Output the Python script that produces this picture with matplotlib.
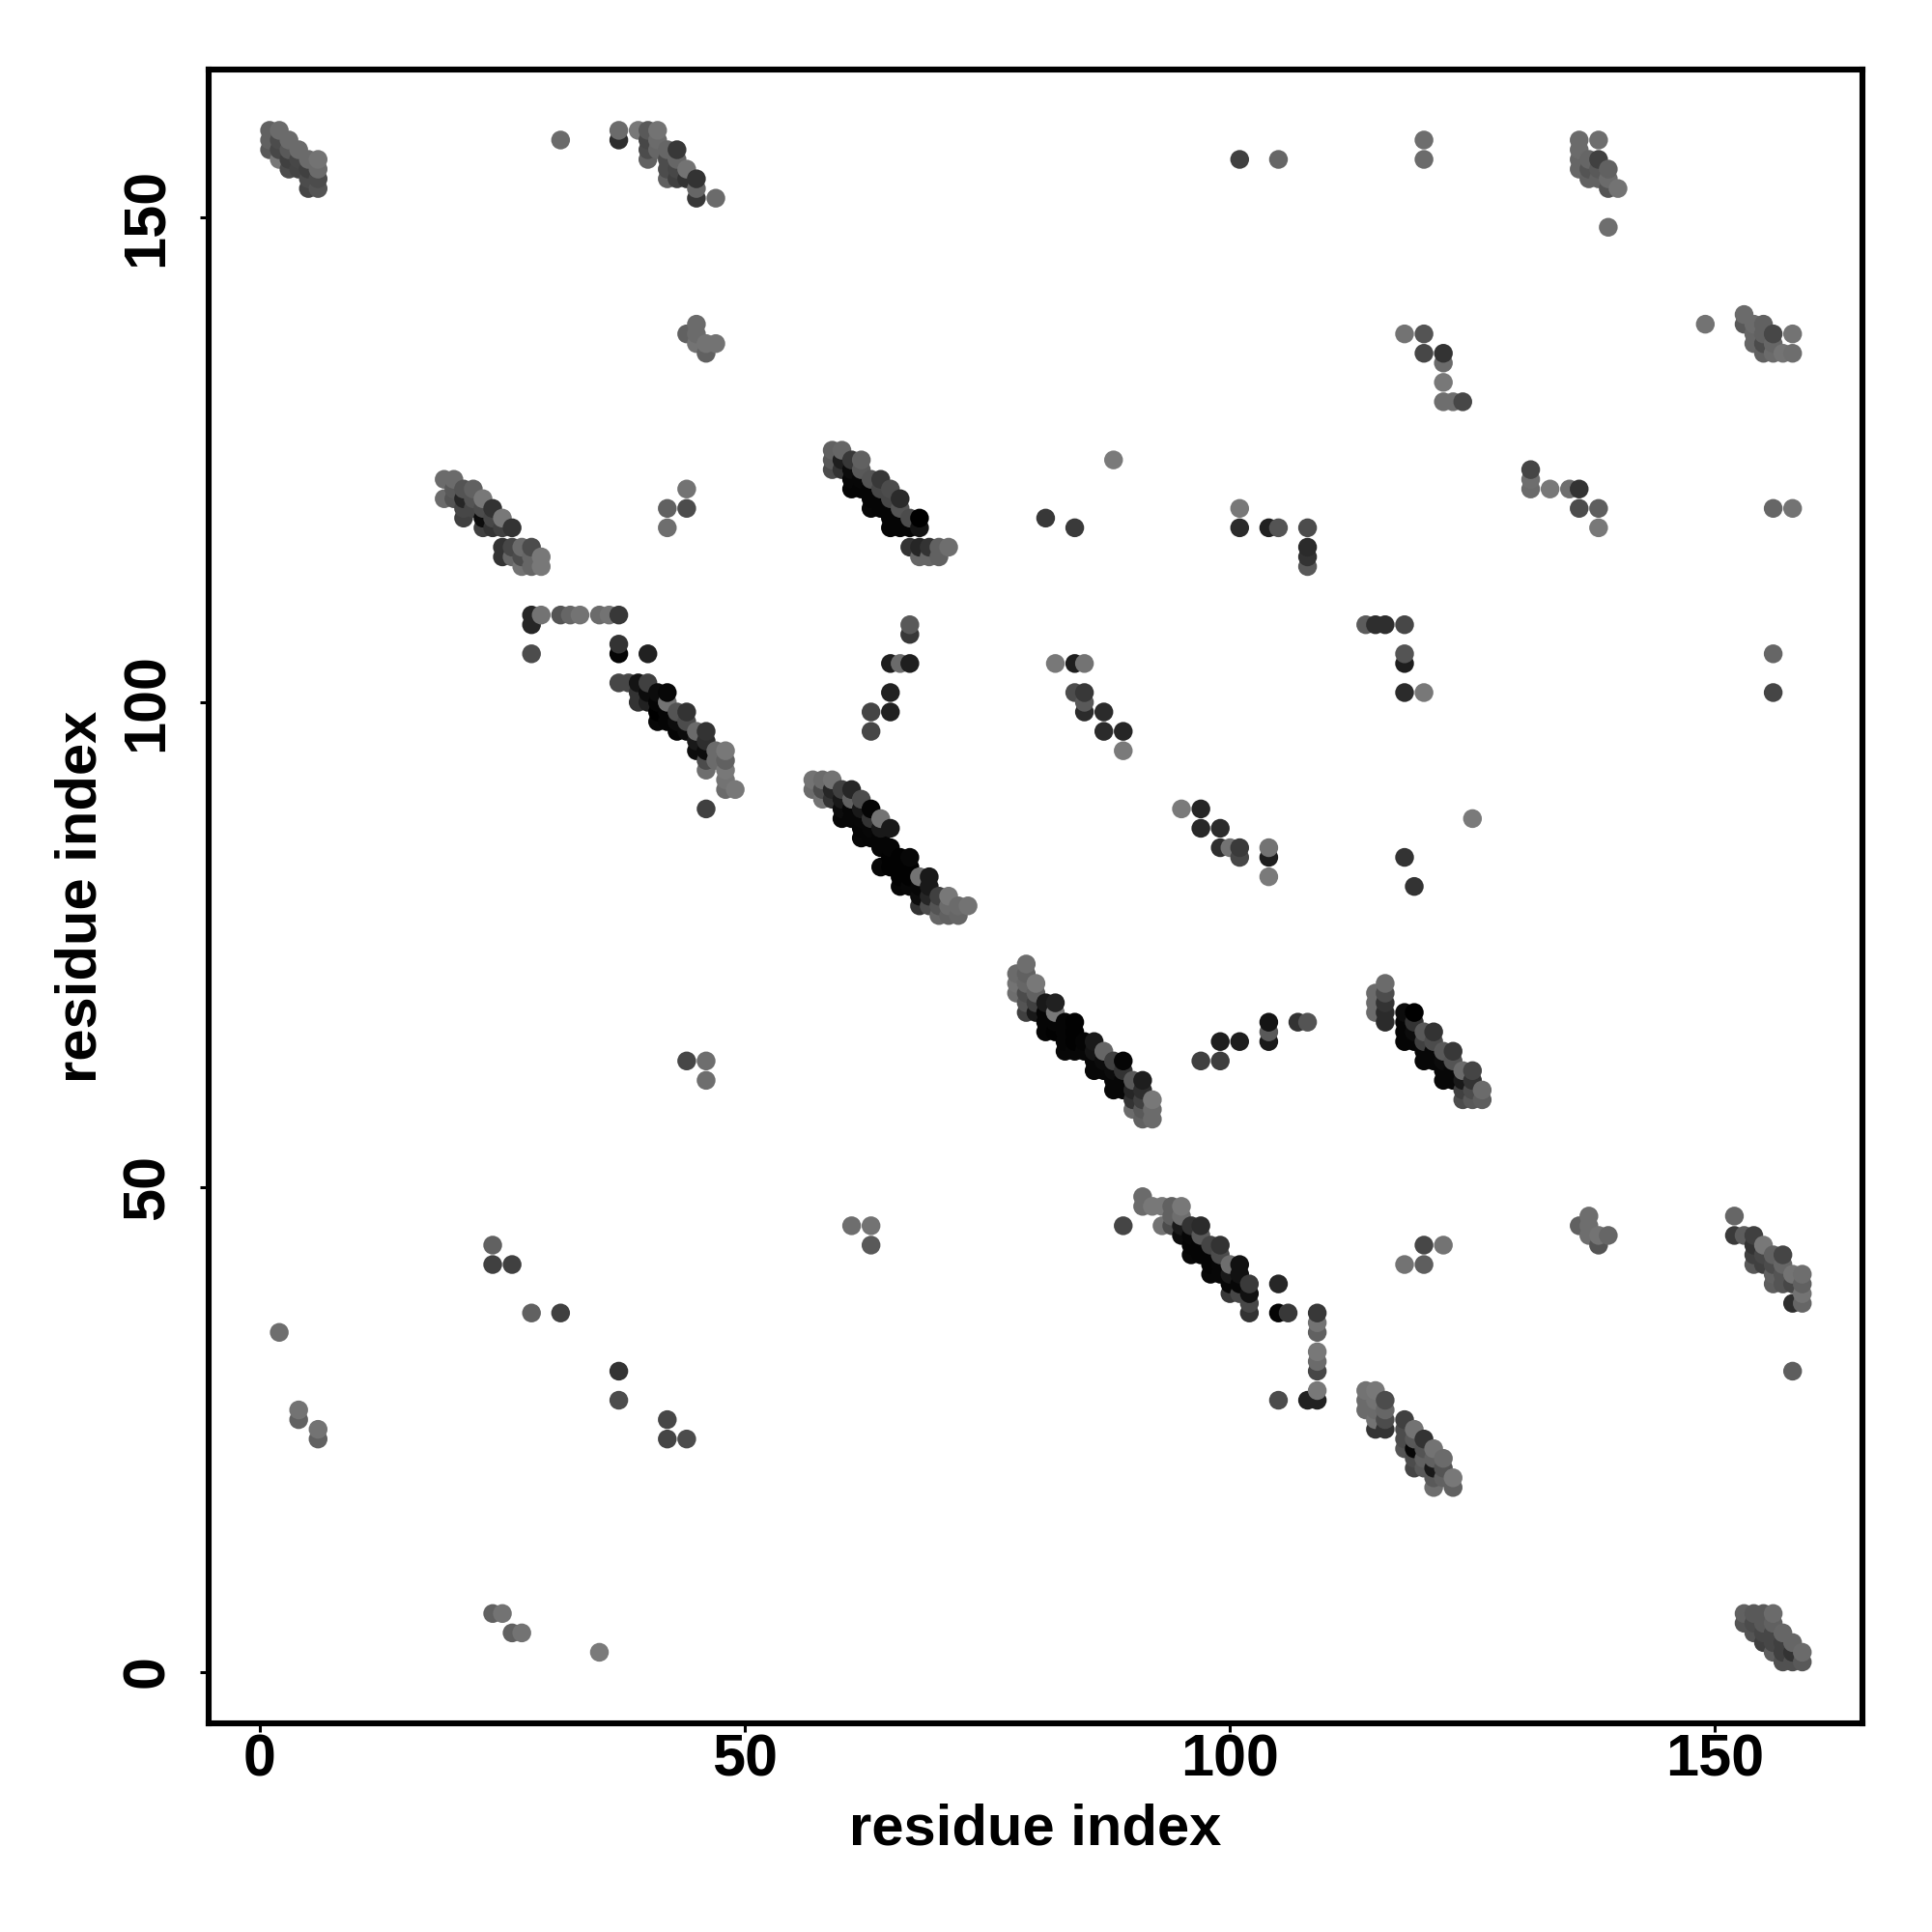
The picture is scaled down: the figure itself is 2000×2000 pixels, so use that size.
import numpy as np
import matplotlib
matplotlib.use("Agg")
import matplotlib.pyplot as plt

plt.rcParams["font.family"] = ["Liberation Sans", "DejaVu Sans"]
plt.rcParams["font.weight"] = "bold"

# contacts as (residue x, residue y, grey level)
block_1_6 = [
    (1, 159, .38), (1, 158, .38), (1, 157, .35), (2, 159, .42), (2, 158, .30), (2, 157, .28), (2, 156, .47),
    (3, 158, .42), (3, 157, .35), (3, 156, .25), (3, 155, .30), (4, 157, .42), (4, 156, .28), (4, 155, .27),
    (5, 156, .42), (5, 155, .25), (5, 154, .30), (5, 153, .27), (6, 156, .45), (6, 155, .42), (6, 154, .30), (6, 153, .33),
]
block_31_47 = [
    (31, 158, .42), (37, 159, .42), (37, 158, .18), (39, 159, .47), (40, 159, .35), (40, 158, .28), (40, 157, .30), (40, 156, .38),
    (41, 159, .45), (41, 158, .42), (41, 157, .40), (42, 157, .40), (42, 156, .30), (42, 155, .30), (42, 154, .38),
    (43, 157, .22), (43, 156, .40), (43, 155, .28), (43, 154, .25), (44, 155, .45), (44, 154, .20),
    (45, 154, .20), (45, 153, .40), (45, 152, .22), (47, 152, .42),
    (44, 138, .38), (45, 139, .42), (45, 138, .42), (45, 137, .45), (46, 137, .45), (46, 136, .38), (47, 137, .45),
]
block_19_29 = [
    (19, 123, .42), (19, 121, .42), (20, 123, .42), (20, 122, .35), (20, 121, .33), (21, 122, .33), (21, 121, .15), (21, 120, .28), (21, 119, .25),
    (22, 122, .38), (22, 121, .33), (22, 120, .28), (23, 121, .47), (23, 120, .30), (23, 119, .05), (23, 118, .25),
    (24, 120, .20), (24, 119, .28), (24, 118, .20), (25, 119, .47), (25, 118, .25), (26, 118, .20),
    (25, 116, .20), (25, 115, .20), (26, 116, .28), (26, 115, .40), (27, 116, .42), (27, 115, .30), (27, 114, .45),
    (28, 116, .30), (28, 115, .40), (28, 114, .40), (29, 115, .47), (29, 114, .47),
    (44, 122, .45), (44, 120, .30), (42, 120, .38), (42, 118, .43),
]
block_28_49 = [
    (28, 109, .15), (28, 108, .15), (29, 109, .45), (31, 109, .33), (32, 109, .40), (33, 109, .45), (35, 109, .42), (36, 109, .45), (37, 109, .22),
    (28, 105, .30), (37, 106, .20), (37, 105, .02), (40, 105, .13),
    (37, 102, .28), (38, 102, .28), (39, 102, .08), (39, 101, .20), (39, 100, .20), (40, 102, .25), (40, 101, .05), (40, 100, .13),
    (41, 101, .05), (41, 100, .02), (41, 99, .00), (41, 98, .03), (42, 101, .03), (42, 100, .45), (42, 99, .02), (42, 98, .02),
    (43, 99, .33), (43, 98, .05), (43, 97, .02), (44, 99, .20), (44, 98, .30), (44, 97, .05),
    (45, 97, .42), (45, 96, .10), (45, 95, .05), (46, 97, .20), (46, 96, .18), (46, 95, .05), (46, 94, .30), (46, 93, .43), (46, 89, .25),
    (47, 95, .42), (47, 94, .42), (48, 95, .47), (48, 94, .38), (48, 93, .47), (48, 92, .45), (48, 91, .42), (49, 91, .47),
]
block_59_71 = [
    (59, 126, .38), (59, 125, .35), (59, 124, .30), (60, 126, .40), (60, 125, .12), (60, 124, .20),
    (61, 125, .22), (61, 124, .05), (61, 123, .03), (61, 122, .02), (62, 125, .38), (62, 124, .35), (62, 123, .03), (62, 122, .02),
    (63, 123, .33), (63, 122, .02), (63, 121, .02), (63, 120, .03), (64, 123, .22), (64, 122, .28), (64, 121, .02), (64, 120, .02),
    (65, 122, .30), (65, 121, .28), (65, 120, .02), (65, 119, .02), (65, 118, .02), (66, 121, .17), (66, 120, .33), (66, 119, .02), (66, 118, .02),
    (67, 119, .30), (67, 118, .02), (67, 116, .20), (68, 119, .00), (68, 118, .08), (68, 116, .15), (68, 115, .40),
    (69, 116, .20), (69, 115, .40), (70, 116, .38), (70, 115, .38), (71, 116, .43),
]
block_81_108 = [
    (88, 125, .48), (81, 119, .22), (84, 118, .23), (101, 120, .47), (101, 118, .17), (104, 118, .13), (105, 118, .33),
    (108, 118, .30), (108, 116, .17), (108, 115, .20), (108, 114, .35),
    (67, 108, .35), (67, 107, .22), (65, 104, .12), (66, 104, .42), (67, 104, .12), (65, 101, .13), (65, 99, .13), (63, 99, .27), (63, 97, .28),
    (82, 104, .47), (84, 104, .12), (85, 104, .45), (84, 101, .30), (85, 101, .22), (85, 100, .35), (85, 99, .17),
    (87, 99, .17), (87, 97, .17), (89, 97, .15), (89, 95, .48),
    (95, 89, .48), (97, 89, .15), (97, 87, .16), (99, 87, .17), (99, 85, .18), (100, 85, .45), (101, 85, .23), (101, 84, .28),
    (104, 85, .45), (104, 84, .12), (104, 82, .48),
]
block_57_73 = [
    (57, 92, .45), (57, 91, .42), (58, 92, .42), (58, 91, .30), (58, 90, .45), (59, 92, .45), (59, 91, .15), (59, 90, .20),
    (60, 91, .25), (60, 90, .10), (60, 89, .05), (60, 88, .03), (61, 91, .15), (61, 90, .38), (61, 89, .03), (61, 88, .03),
    (62, 90, .30), (62, 89, .10), (62, 88, .03), (62, 87, .02), (62, 86, .03), (63, 89, .02), (63, 88, .20), (63, 87, .03), (63, 86, .02),
    (64, 88, .45), (64, 87, .10), (64, 86, .02), (64, 85, .02), (64, 83, .03), (65, 87, .10), (65, 85, .02), (65, 84, .01), (65, 83, .01),
    (66, 84, .01), (66, 83, .01), (66, 82, .01), (66, 81, .02), (67, 84, .03), (67, 83, .01), (67, 82, .01), (67, 81, .03),
    (68, 82, .45), (68, 81, .03), (68, 80, .05), (68, 79, .20), (69, 82, .10), (69, 81, .10), (69, 80, .15), (69, 79, .30),
    (70, 80, .25), (70, 79, .33), (70, 78, .40), (71, 80, .47), (71, 79, .42), (71, 78, .38), (72, 79, .42), (72, 78, .40), (73, 79, .45),
]
block_78_92 = [
    (78, 72, .42), (78, 71, .45), (78, 70, .43), (79, 73, .43), (79, 72, .38), (79, 71, .40), (79, 70, .30), (79, 69, .33), (79, 68, .25),
    (80, 71, .47), (80, 70, .38), (80, 69, .25), (80, 68, .10), (81, 69, .10), (81, 68, .02), (81, 67, .02), (81, 66, .02),
    (82, 69, .13), (82, 68, .47), (82, 67, .02), (82, 66, .01), (83, 67, .02), (83, 66, .02), (83, 65, .02), (83, 64, .03),
    (84, 67, .01), (84, 66, .01), (84, 65, .01), (84, 64, .03), (85, 65, .02), (85, 64, .03), (86, 65, .10), (86, 64, .08), (86, 63, .03), (86, 62, .03),
    (87, 64, .40), (87, 63, .05), (87, 62, .03), (88, 63, .25), (88, 62, .05), (88, 61, .03), (88, 60, .03),
    (89, 63, .02), (89, 62, .20), (89, 61, .03), (89, 60, .03), (90, 61, .35), (90, 60, .15), (90, 59, .20), (90, 58, .42),
    (91, 61, .12), (91, 60, .18), (91, 59, .25), (91, 58, .35), (91, 57, .38), (92, 59, .47), (92, 58, .42), (92, 57, .42),
]
block_97_126 = [
    (97, 63, .25), (99, 63, .24), (99, 65, .12), (101, 65, .12), (104, 67, .08), (104, 66, .35), (104, 65, .10), (107, 67, .20), (108, 67, .33),
    (115, 70, .42), (115, 69, .42), (115, 68, .42), (116, 71, .42), (116, 70, .30), (116, 69, .20), (116, 68, .17), (116, 67, .17),
    (118, 68, .05), (118, 67, .02), (118, 66, .02), (118, 65, .02), (119, 68, .00), (119, 67, .20), (119, 66, .05), (119, 65, .02),
    (120, 66, .35), (120, 65, .25), (120, 64, .03), (120, 63, .03), (121, 66, .20), (121, 65, .30), (121, 64, .03), (121, 63, .03),
    (122, 64, .35), (122, 63, .05), (122, 62, .03), (122, 61, .03), (123, 64, .22), (123, 63, .33), (123, 62, .03), (123, 61, .03),
    (124, 62, .42), (124, 61, .10), (124, 60, .25), (124, 59, .30), (125, 62, .27), (125, 61, .20), (125, 60, .30), (125, 59, .35),
    (126, 60, .42), (126, 59, .37),
]
block_89_109 = [
    (89, 46, .27), (91, 49, .42), (91, 48, .42), (92, 48, .47), (93, 48, .47), (93, 46, .45), (94, 48, .38), (94, 47, .38), (94, 46, .30),
    (95, 48, .47), (95, 47, .43), (95, 46, .10), (95, 45, .05), (96, 46, .20), (96, 45, .03), (96, 44, .02), (96, 43, .03),
    (97, 46, .17), (97, 45, .35), (97, 44, .02), (97, 43, .02), (98, 44, .27), (98, 43, .02), (98, 42, .02), (98, 41, .03),
    (99, 44, .20), (99, 43, .30), (99, 42, .03), (99, 41, .03), (100, 42, .43), (100, 41, .10), (100, 40, .03), (100, 39, .22),
    (101, 42, .07), (101, 41, .07), (101, 40, .03), (101, 39, .28), (102, 40, .23), (102, 39, .07), (102, 38, .28), (102, 37, .20),
    (105, 40, .15), (105, 37, .02), (106, 37, .22), (109, 37, .22), (109, 36, .45), (109, 35, .38), (109, 33, .47), (109, 32, .42), (109, 31, .28),
    (109, 29, .47), (109, 28, .13), (108, 28, .13), (105, 28, .30), (120, 44, .28), (122, 44, .45), (118, 42, .45), (120, 42, .37),
]
block_114_123 = [
    (114, 29, .45), (114, 28, .42), (114, 27, .42), (115, 29, .47), (115, 28, .45), (115, 27, .42), (115, 26, .45), (115, 25, .20),
    (116, 28, .30), (116, 27, .40), (116, 26, .30), (116, 25, .20), (118, 26, .25), (118, 25, .30), (118, 24, .30), (118, 23, .33),
    (119, 25, .45), (119, 24, .35), (119, 23, .03), (119, 22, .30), (119, 21, .27), (120, 24, .20), (120, 23, .33), (120, 22, .38), (120, 21, .35),
    (121, 23, .45), (121, 22, .38), (121, 21, .10), (121, 20, .35), (121, 19, .43), (122, 22, .42), (122, 21, .33), (122, 20, .38),
    (123, 20, .47), (123, 19, .38),
]
block_136_159_low = [
    (136, 46, .38), (137, 47, .43), (137, 46, .43), (137, 45, .43), (138, 45, .45), (138, 44, .33), (139, 45, .40),
    (152, 47, .40), (152, 45, .23), (153, 45, .36), (154, 45, .25), (154, 44, .20), (154, 43, .25), (154, 42, .35),
    (155, 44, .47), (155, 43, .28), (155, 42, .25), (156, 43, .38), (156, 42, .30), (156, 41, .38), (156, 40, .37),
    (157, 43, .27), (157, 42, .40), (157, 41, .33), (157, 40, .33), (158, 41, .45), (158, 40, .28), (158, 38, .18), (158, 31, .37),
    (159, 41, .43), (159, 40, .38), (159, 39, .45), (159, 38, .40),
]
block_118_158_high = [
    (120, 158, .43), (120, 156, .42), (101, 156, .25), (105, 156, .40),
    (136, 158, .42), (136, 157, .42), (136, 156, .40), (136, 155, .40), (137, 156, .40), (137, 155, .33), (137, 154, .38),
    (138, 158, .43), (138, 156, .25), (138, 155, .35), (138, 154, .38), (139, 155, .38), (139, 154, .42), (139, 153, .33), (140, 153, .45), (139, 149, .43),
    (118, 138, .45), (120, 138, .33), (120, 136, .28), (122, 136, .20), (122, 135, .42), (122, 133, .47), (122, 131, .43), (123, 131, .43), (124, 131, .28),
    (131, 124, .27), (131, 123, .43), (131, 122, .42), (133, 122, .47), (135, 122, .43), (136, 122, .20), (136, 120, .30), (138, 120, .37), (138, 118, .47),
    (149, 139, .45), (153, 140, .42), (153, 139, .35), (154, 139, .42), (154, 138, .40), (154, 137, .40),
    (155, 139, .38), (155, 138, .38), (155, 137, .30), (155, 136, .38), (156, 138, .28), (156, 137, .40), (156, 136, .42),
    (157, 136, .45), (158, 138, .45), (158, 136, .43), (156, 120, .40), (158, 120, .45),
    (114, 108, .36), (115, 108, .18), (116, 108, .18), (118, 108, .28), (118, 105, .33), (118, 104, .12), (118, 101, .17), (120, 101, .47),
    (125, 88, .48), (118, 84, .20), (119, 81, .20), (156, 105, .40), (156, 101, .27),
]
block_low_left = [
    (24, 6, .38), (25, 6, .45), (26, 4, .38), (27, 4, .45), (35, 2, .48), (2, 35, .43), (4, 27, .45), (4, 26, .38), (6, 25, .45), (6, 24, .38),
    (24, 44, .38), (24, 42, .25), (26, 42, .25), (28, 37, .38), (31, 37, .25), (37, 31, .20), (37, 28, .30),
    (42, 26, .28), (42, 24, .27), (44, 24, .30), (44, 63, .28), (46, 63, .43), (46, 61, .43), (61, 46, .43), (63, 46, .45), (63, 44, .35),
]
block_153_159 = [
    (153, 6, .38), (153, 5, .33), (154, 6, .35), (154, 5, .30), (154, 4, .33), (155, 6, .35), (155, 5, .35), (155, 4, .28), (155, 3, .25),
    (156, 6, .42), (156, 5, .38), (156, 4, .28), (156, 3, .28), (156, 2, .37), (157, 4, .40), (157, 3, .25), (157, 2, .25), (157, 1, .32),
    (158, 3, .40), (158, 2, .20), (158, 1, .32), (159, 2, .42), (159, 1, .35),
]

tick_values = [0, 50, 100, 150]

blocks = [block_1_6, block_31_47, block_19_29, block_28_49, block_59_71, block_81_108, block_57_73, block_78_92,
          block_97_126, block_89_109, block_114_123, block_136_159_low, block_118_158_high, block_low_left, block_153_159]
contacts = np.array([c for b in blocks for c in b])
# later residues are drawn over earlier ones
order = np.lexsort((contacts[:, 1], contacts[:, 0]))
contacts = contacts[order]

fig = plt.figure(figsize=(10, 10), dpi=200)
ax = fig.add_axes([0.108, 0.108, 0.856, 0.856])
ax.scatter(contacts[:, 0], contacts[:, 1], c=contacts[:, 2], cmap="gray", vmin=0, vmax=1, s=49, linewidths=0)

ax.set_xlim(-5.28, 165.2)
ax.set_ylim(-5.33, 165.27)
ax.set_xticks(tick_values)
ax.set_yticks(tick_values)
ax.tick_params(length=3.2, width=1.1, labelsize=22)
ax.tick_params(axis="x", pad=0.5)
ax.tick_params(axis="y", pad=9)
plt.setp(ax.get_yticklabels(), rotation=90, va="center")
for spine in ax.spines.values():
    spine.set_linewidth(2.2)

ax.set_xlabel("residue index", fontsize=21.5, fontweight="bold", labelpad=5.5)
ax.set_ylabel("residue index", fontsize=21.5, fontweight="bold", labelpad=5)

fig.savefig("out.png", dpi=200)
